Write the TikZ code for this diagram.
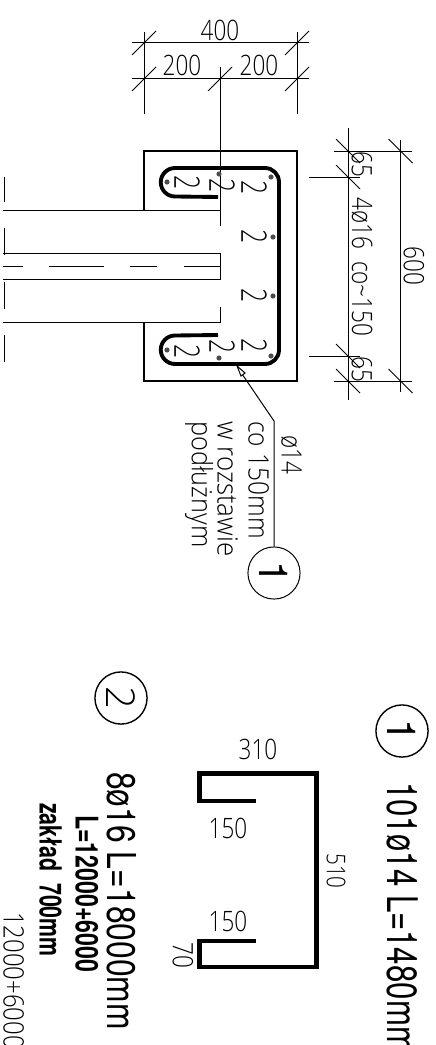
\documentclass[tikz,border=0pt]{standalone}
\usepackage{fontspec}
\usepackage{graphicx}
\setmainfont{TeX Gyre Heros}
\newfontfamily\cad{Open Sans Light}
\usetikzlibrary{calc}
\newcommand{\sx}[2]{\scalebox{#1}[1]{#2}}
\tikzset{
  x=0.03cm,y=-0.03cm,
  thinl/.style={line width=0.85pt,black},
  thickl/.style={line width=1.5pt,black},
  barl/.style={line width=3.9pt,black,line join=miter},
  rebarl/.style={line width=3.3pt,black},
  lab/.style={inner sep=0pt,font=\cad\fontsize{24}{24}\selectfont,text=black},
  labr/.style={lab,rotate=-90},
  labb/.style={labr,anchor=south west},
  dot/.style={circle,fill=black!70,inner sep=0pt,minimum size=4.4pt},
  ringsym/.style={draw=black,circle,minimum size=44.5pt,inner sep=0pt,font=\fontsize{34}{34}\selectfont,rotate=-90},
}
\newcommand{\tickh}[1]{\draw[thinl] ($(#1)+(-12,12)$) -- ($(#1)+(12,-12)$);}
\newcommand{\tickv}[1]{\draw[thinl] ($(#1)+(-12,-12)$) -- ($(#1)+(12,12)$);}
\begin{document}
\begin{tikzpicture}
\useasboundingbox (0,0) rectangle (435,1045);
% dimension lines top
\coordinate (a1) at (144,43); \coordinate (a2) at (297,43);
\coordinate (b1) at (144,79); \coordinate (b2) at (220,79); \coordinate (b3) at (297,79);
\draw[thinl] (132,43) -- (309,43);
\draw[thinl] (132,79) -- (309,79);
\draw[thinl] (144,32) -- (144,114);
\draw[thinl] (297,32) -- (297,114);
\draw[thinl] (220,67) -- (220,226);
\tickh{a1}\tickh{a2}\tickh{b1}\tickh{b2}\tickh{b3}
\node[lab] (t400) at (220,30) {\sx{.8}{400}};
\node[lab] (t200a) at (182,65.5) {\sx{.8}{200}};
\node[lab] (t200b) at (259,65.5) {\sx{.8}{200}};
% outer box
\draw[thickl] (144,211) -- (144,151) -- (297,151) -- (297,381) -- (144,381) -- (144,322);
% column
\draw[thinl] (3,210.5) -- (220,210.5) -- (220,226);
\draw[thinl] (3,322) -- (220,322) -- (220,307);
\draw[thinl] (3,253.5) -- (220,253.5) -- (220,279) -- (3,279);
\draw[thinl] (3,266) -- (23,266) (49,266) -- (104,266) (130,266) -- (157,266) (184,266) -- (220,266);
\draw[thinl] (4,177) -- (4,202);
\draw[thinl] (4,228) -- (4,255);
\draw[thinl] (4,282) -- (4,309);
\draw[thinl] (4,335) -- (4,362);
% rebar
\draw[rebarl] (218,197) -- (175,196.5) arc[start angle=90,end angle=270,radius=14.25] -- (265,168) arc[start angle=-90,end angle=0,radius=14] -- (279,350) arc[start angle=0,end angle=90,radius=14] -- (175,364) arc[start angle=90,end angle=270,radius=14.25] -- (218,335);
% bars
\foreach \n/\x/\y in {d1/167/182,d2/219/174,d3/271/177,d4/273/237,d5/273/296,d6/167/350,d7/219/358,d8/271/356}
  \node[dot] (\n) at (\x,\y) {};
% 2 labels
\foreach \n/\x/\y in {t1/187/183,t2/222/185.5,t3/254/187.5,t4/254/237,t5/254/296,t6/187/352,t7/222/347,t8/254/346}
  \node[labr,font=\cad\fontsize{30}{30}\selectfont] (\n) at (\x,\y) {\sx{.7}{2}};
% right dims
\coordinate (c1) at (348,151); \coordinate (c2) at (348,177); \coordinate (c3) at (348,356); \coordinate (c4) at (348,381);
\coordinate (e1) at (400.5,151); \coordinate (e2) at (400.5,381);
\draw[thinl] (348,128) -- (348,400);
\draw[thinl] (400.5,140) -- (400.5,392);
\draw[thinl] (334,151) -- (412,151);
\draw[thinl] (334,381) -- (412,381);
\draw[thinl] (309,177) -- (360,177);
\draw[thinl] (309,356) -- (360,356);
\tickv{c1}\tickv{c2}\tickv{c3}\tickv{c4}\tickv{e1}\tickv{e2}
\node[labr] (t65a) at (362,164) {\sx{.8}{65}};
\node[labr] (t65b) at (362,369) {\sx{.8}{65}};
\node[labr] (t4f) at (362,267) {\sx{.8}{4ø16\ \ co\textasciitilde150}};
\node[labr] (t600) at (414,266) {\sx{.8}{600}};
% leader
\node[ringsym,line width=0.85pt] (c1n) at (274,573) {1};
\coordinate (lk) at (274,421);
\coordinate (la) at (240,371);
\draw[thinl] (c1n.west) -- (lk) -- (la);
\draw[thinl,fill=white] (237,366) -- (245,373) -- (241,376) -- cycle;
\node[labb] (p1) at (281,435) {\sx{.8}{ø14}};
\node[labb] (p2) at (248,421) {\sx{.87}{co 150mm}};
\node[labb] (p3) at (217,421) {\sx{.92}{w rozstawie}};
\node[labb] (p4) at (185,421) {\sx{.9}{podłużnym}};
% bar shape 1
\draw[barl] (256,801) -- (199.5,801) -- (199.5,773.5) -- (316.5,773.5) -- (316.5,967) -- (199.5,967) -- (199.5,941) -- (256,941);
\node[lab] (t310) at (258,749) {\sx{.8}{310}};
\node[lab] (t150a) at (228,828) {\sx{.8}{150}};
\node[lab] (t150b) at (228,921) {\sx{.8}{150}};
\node[labr,font=\cad\fontsize{22}{22}\selectfont] (t510) at (336,871) {\sx{.8}{510}};
\node[labr] (t70) at (183,955) {\sx{.8}{70}};
% circle 1 title
\node[ringsym,line width=1.2pt] (cn1) at (402,731) {1};
\node[labb,font=\fontsize{36}{36}\selectfont] (tt1) at (387,782) {\sx{.74}{101ø14 L=1480mm}};
% second list
\node[ringsym,line width=1.2pt,font=\cad\fontsize{34}{34}\selectfont] (cn2) at (121,698) {2};
\node[labb,font=\fontsize{34}{34}\selectfont] (tt2) at (107,772) {\sx{.8}{8ø16 L=18000mm}};
\node[labb,font=\bfseries\fontsize{26.7}{26.7}\selectfont] (tt3) at (75,815) {\sx{.74}{L=12000+6000}};
\node[labb,font=\bfseries\fontsize{26}{26}\selectfont] (tt4) at (39,803) {\sx{.7}{zakład\ \ 700mm}};
\node[labb] (tt5) at (3,912) {\sx{.85}{12000+6000}};
\end{tikzpicture}
\end{document}
